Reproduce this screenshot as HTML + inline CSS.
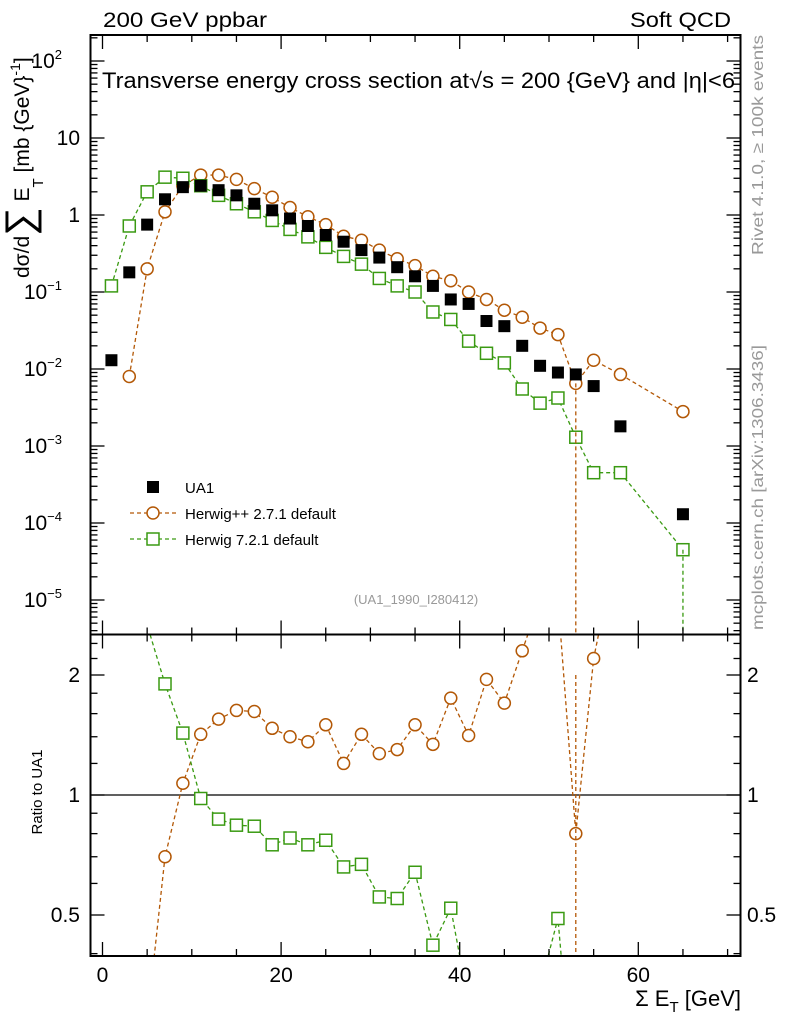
<!DOCTYPE html>
<html><head><meta charset="utf-8">
<style>
html,body{margin:0;padding:0;background:#fff;overflow:hidden;}
svg{display:block;font-family:"Liberation Sans",sans-serif;}
</style></head>
<body>
<svg id="chart" width="786" height="1024" viewBox="0 0 786 1024">
<text x="103" y="27" font-size="21" textLength="164" lengthAdjust="spacingAndGlyphs">200 GeV ppbar</text>
<text x="630" y="27" font-size="21" textLength="101" lengthAdjust="spacingAndGlyphs">Soft QCD</text>
<text x="102" y="88" font-size="22" textLength="633" lengthAdjust="spacingAndGlyphs">Transverse energy cross section at√s = 200 {GeV} and |η|&lt;6</text>
<text transform="translate(763,255) rotate(-90)" font-size="16" fill="#999" textLength="220" lengthAdjust="spacingAndGlyphs">Rivet 4.1.0, ≥ 100k events</text>
<text transform="translate(763,630) rotate(-90)" font-size="16" fill="#999" textLength="285" lengthAdjust="spacingAndGlyphs">mcplots.cern.ch [arXiv:1306.3436]</text>
<text x="416" y="604" font-size="13" fill="#999" text-anchor="middle">(UA1_1990_I280412)</text>
<text transform="translate(29,278) rotate(-90)" font-size="21">dσ/d<tspan font-size="40" dy="4">∑</tspan><tspan dy="-4"> E</tspan><tspan font-size="15" dy="14">T</tspan><tspan dy="-14"> [mb {GeV}</tspan><tspan font-size="14" dy="-9">-1</tspan><tspan dy="9">]</tspan></text>
<text transform="translate(42,792) rotate(-90)" font-size="15" text-anchor="middle">Ratio to UA1</text>
<text x="741" y="1006" font-size="22" text-anchor="end">Σ E<tspan font-size="15" dy="6">T</tspan><tspan dy="-6"> [GeV]</tspan></text>
<g id="legend">
<rect x="147" y="481" width="12" height="12" fill="#000"/>
<text x="185" y="493" font-size="15">UA1</text>
<line x1="130" y1="513" x2="176" y2="513" stroke="#b35806" stroke-dasharray="4,3" stroke-width="1.3"/>
<circle cx="153" cy="513" r="6" fill="#fff" stroke="#b35806" stroke-width="1.5"/>
<text x="185" y="519" font-size="15">Herwig++ 2.7.1 default</text>
<line x1="130" y1="539" x2="176" y2="539" stroke="#3a9a12" stroke-dasharray="4,3" stroke-width="1.3"/>
<rect x="147" y="533" width="12" height="12" fill="#fff" stroke="#3a9a12" stroke-width="1.5"/>
<text x="185" y="545" font-size="15">Herwig 7.2.1 default</text>
</g>
</svg>
<script>
const xs = [1,3,5,7,9,11,13,15,17,19,21,23,25,27,29,31,33,35,37,39,41,43,45,47,49,51,53,55,58,65];
const ua1 = [0.013,0.18,0.75,1.6,2.3,2.4,2.1,1.8,1.4,1.15,0.9,0.72,0.55,0.45,0.35,0.28,0.21,0.16,0.12,0.08,0.07,0.042,0.036,0.02,0.011,0.009,0.0085,0.006,0.0018,0.00013];
const hwpp = [null,0.008,0.2,1.1,2.4,3.3,3.3,2.9,2.2,1.7,1.25,0.95,0.75,0.53,0.47,0.35,0.27,0.22,0.16,0.14,0.1,0.08,0.058,0.047,0.034,0.028,0.0065,0.013,0.0085,0.0028];
const hw7 = [0.12,0.72,2.0,3.1,3.0,2.4,1.8,1.4,1.1,0.85,0.65,0.52,0.38,0.29,0.23,0.15,0.12,0.1,0.055,0.044,0.023,0.016,0.012,0.0055,0.0036,0.0042,0.0013,0.00045,0.00045,0.000045];
const ratioHwpp = [null,0.05,0.27,0.7,1.07,1.42,1.55,1.63,1.62,1.47,1.4,1.36,1.5,1.2,1.42,1.27,1.3,1.5,1.34,1.75,1.41,1.95,1.7,2.3,3.1,3.1,0.8,2.2,4.7,21];
const ratioHw7 = [9,4,2.67,1.9,1.43,0.98,0.87,0.84,0.835,0.75,0.78,0.75,0.77,0.66,0.67,0.555,0.55,0.64,0.42,0.52,0.3,0.38,0.33,0.27,0.33,0.49,0.15,0.075,0.25,0.35];
const yTickExp = [-5,-4,-3,-2,-1,0,1,2];
const yTickLabels = ["10","10","10","10","10","1","10","10"];
const yTickSup = ["−5","−4","−3","−2","−1","","","2"];
const xTickVals = [0,20,40,60];
const rTickVals = [0.5,1,2];
const rTickLabels = ["0.5","1","2"];

const NS="http://www.w3.org/2000/svg";
const svg=document.getElementById('chart');
const L=90.5,R=740.5,T=35,MB=634.5,RB=956;
const X=v=>102.5+(v)*8.93;
const Y=v=>61-(Math.log10(v)-2)*77;
const RY=v=>795-Math.log2(v)*120;
function el(tag,attrs,parent){const e=document.createElementNS(NS,tag);for(const k in attrs)e.setAttribute(k,attrs[k]);(parent||svg).appendChild(e);return e;}

const defs=el('defs',{});
const c1=el('clipPath',{id:'cm'},defs);el('rect',{x:L,y:T,width:R-L,height:MB-T},c1);
const c2=el('clipPath',{id:'cr'},defs);el('rect',{x:L,y:MB,width:R-L,height:RB-MB},c2);

const gm=el('g',{'clip-path':'url(#cm)'});


const gr=el('g',{'clip-path':'url(#cr)'});



const rl=el('line',{x1:L,x2:R,y1:RY(1),y2:RY(1),stroke:'#000','stroke-width':1.3},gr);



function series(vals,color,shape,g,yf,name){
  let pts=[];
  xs.forEach((x,i)=>{if(vals[i]!=null)pts.push([X(x),yf(vals[i])]);});
  const p=el('polyline',{points:pts.map(p=>p.join(',')).join(' '),fill:'none',stroke:color,'stroke-width':1.3,'stroke-dasharray':'4,3'},g);
  
  
  pts.forEach(([px,py])=>{
    let m;
    if(shape==='c') m=el('circle',{cx:px,cy:py,r:6,fill:'#fff',stroke:color,'stroke-width':1.5},g);
    else m=el('rect',{x:px-6,y:py-6,width:12,height:12,fill:'#fff',stroke:color,'stroke-width':1.5},g);
    
    
  });
}
series(hwpp,'#b35806','c',gm,Y,'herwigpp');
series(hw7,'#3a9a12','s',gm,Y,'herwig7');
xs.forEach((x,i)=>{const m=el('rect',{x:X(x)-6,y:Y(ua1[i])-6,width:12,height:12,fill:'#000'},gm);
  
  });
const eb1=el('line',{x1:X(53),x2:X(53),y1:Y(0.0065),y2:MB,stroke:'#b35806','stroke-width':1.3,'stroke-dasharray':'4,3'},gm);


const eb2=el('line',{x1:X(65),x2:X(65),y1:Y(0.000045),y2:MB,stroke:'#3a9a12','stroke-width':1.3,'stroke-dasharray':'4,3'},gm);


series(ratioHwpp,'#b35806','c',gr,RY,'ratio-herwigpp');
series(ratioHw7,'#3a9a12','s',gr,RY,'ratio-herwig7');
const eb3=el('line',{x1:X(53),x2:X(53),y1:RY(2.0),y2:RB,stroke:'#b35806','stroke-width':1.3,'stroke-dasharray':'4,3'},gr);



const f1=el('rect',{x:L,y:T,width:R-L,height:MB-T,fill:'none',stroke:'#000','stroke-width':2});


const f2=el('rect',{x:L,y:MB,width:R-L,height:RB-MB,fill:'none',stroke:'#000','stroke-width':2});



const ticks=el('g',{stroke:'#000','stroke-width':1.3});


for(let v=0;v<=70;v+=5){
  const len=v%20===0?14:7;
  [[T,1],[MB,-1],[MB,1],[RB,-1]].forEach(([y0,d])=>{el('line',{x1:X(v),x2:X(v),y1:y0,y2:y0+d*len},ticks);});
}
xTickVals.forEach(v=>{const t=el('text',{x:X(v),y:982,'font-size':21,'text-anchor':'middle'});t.textContent=v;
  
  });
for(let e=-6;e<=2;e++){for(let k=1;k<=9;k++){const v=k*Math.pow(10,e);const y=Y(v);if(y<T||y>MB)continue;const len=k===1?14:7;
  el('line',{x1:L,x2:L+len,y1:y,y2:y},ticks);el('line',{x1:R,x2:R-len,y1:y,y2:y},ticks);}}
yTickExp.forEach((e,i)=>{const t=el('text',{x:yTickSup[i]?62:80,y:Y(Math.pow(10,e))+7,'font-size':21,'text-anchor':'end'});
  t.textContent=yTickLabels[i];
  
  
  if(yTickSup[i]){const s=el('tspan',{'font-size':13,dy:-9});s.textContent=yTickSup[i];t.appendChild(s);}
});
[0.4,0.5,0.6,0.7,0.8,0.9,1,1.2,1.4,1.6,1.8,2,2.2,2.4].forEach(v=>{const y=RY(v);if(y<MB||y>RB)return;const len=(v===0.5||v===1||v===2)?14:7;
  el('line',{x1:L,x2:L+len,y1:y,y2:y},ticks);el('line',{x1:R,x2:R-len,y1:y,y2:y},ticks);});
rTickVals.forEach((v,i)=>{
  const t=el('text',{x:80,y:RY(v)+7,'font-size':21,'text-anchor':'end'});t.textContent=rTickLabels[i];
  
  
  const t2=el('text',{x:747,y:RY(v)+7,'font-size':21});t2.textContent=rTickLabels[i];
  
  
});
</script>
</body></html>
